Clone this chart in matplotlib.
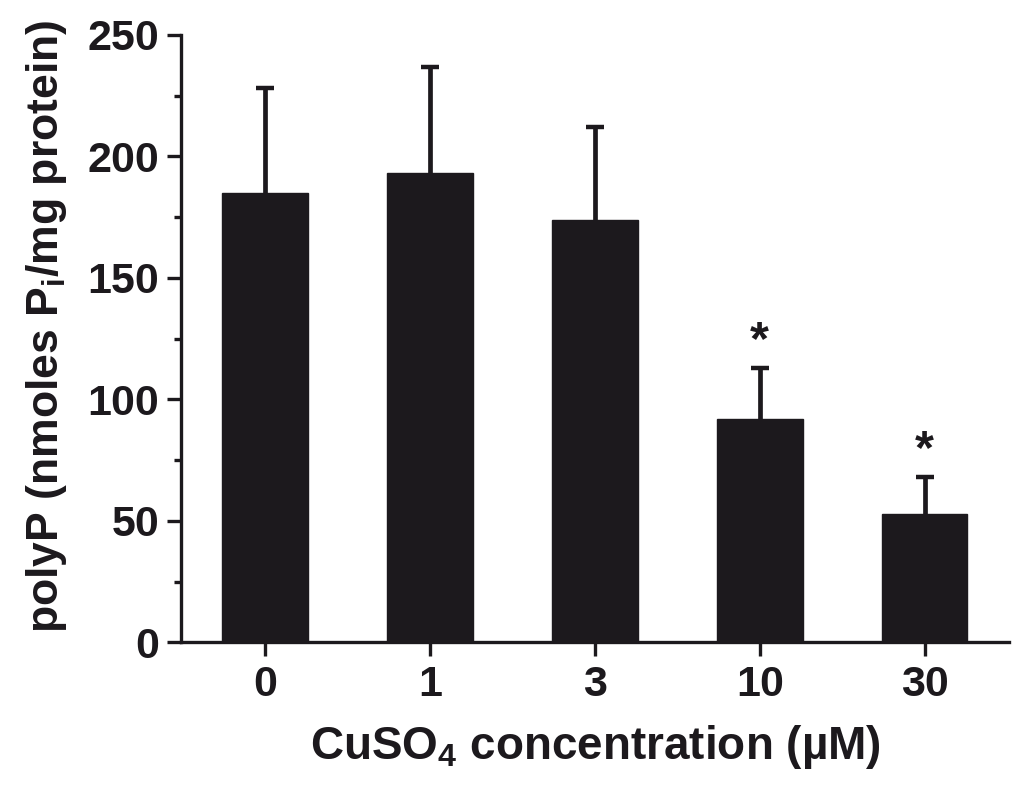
import matplotlib
matplotlib.use('Agg')
import matplotlib.pyplot as plt
from matplotlib.ticker import MultipleLocator

plt.rcParams['font.family'] = ['Liberation Sans', 'DejaVu Sans']
plt.rcParams['font.weight'] = 'bold'
plt.rcParams['mathtext.fontset'] = 'custom'
plt.rcParams['mathtext.rm'] = 'Liberation Sans:bold'
plt.rcParams['mathtext.default'] = 'rm'

# polyP levels vs CuSO4 concentration
conc_labels = ['0', '1', '3', '10', '30']
polyp_mean = [185, 193, 174, 92, 53]
polyp_sd = [43, 44, 38, 21, 15]
significant = [False, False, False, True, True]

bar_color = '#1c191d'

fig = plt.figure(figsize=(10.24, 7.94), dpi=100, facecolor='white')
ax = fig.add_axes([0.177, 0.191, 0.808, 0.765])

x = list(range(len(conc_labels)))
tops = [m + s for m, s in zip(polyp_mean, polyp_sd)]
ax.bar(x, polyp_mean, width=0.52, color=bar_color, edgecolor=bar_color, zorder=2)
# upward-only error bars with a cap at the top
ax.vlines(x, polyp_mean, tops, color=bar_color, lw=3.4, zorder=3)
ax.plot(x, tops, ls='none', marker='_', ms=13, mew=3.2, color=bar_color, zorder=3)

for xi, t, sig in zip(x, tops, significant):
    if sig:
        ax.annotate('*', (xi, t), textcoords='offset points', xytext=(0, 3),
                    ha='center', va='bottom', fontsize=35, fontweight='bold',
                    color=bar_color)

ax.set_xlim(-0.51, 4.51)
ax.set_ylim(0, 250)
ax.set_xticks(x)
ax.set_xticklabels(conc_labels)
ax.yaxis.set_major_locator(MultipleLocator(50))
ax.yaxis.set_minor_locator(MultipleLocator(25))

for side in ['top', 'right']:
    ax.spines[side].set_visible(False)
for side in ['left', 'bottom']:
    ax.spines[side].set_linewidth(2.4)
    ax.spines[side].set_color(bar_color)

ax.tick_params(axis='both', which='major', direction='out', length=10, width=2.4,
               labelsize=31, color=bar_color, labelcolor=bar_color, pad=6)
ax.tick_params(axis='y', which='minor', direction='out', length=5, width=2.4,
               color=bar_color)
for lbl in ax.get_xticklabels() + ax.get_yticklabels():
    lbl.set_fontweight('bold')

ax.set_xlabel('CuSO$_4$ concentration (\u00b5M)', fontsize=33, fontweight='bold',
              color=bar_color)
ax.xaxis.set_label_coords(0.5, -0.133)
ax.set_ylabel('polyP (nmoles P$_i$/mg protein)', fontsize=32, fontweight='bold',
              color=bar_color)
ax.yaxis.set_label_coords(-0.136, 0.52)

fig.savefig('out.png', dpi=100, facecolor='white')
plt.close()
print('out.png')
